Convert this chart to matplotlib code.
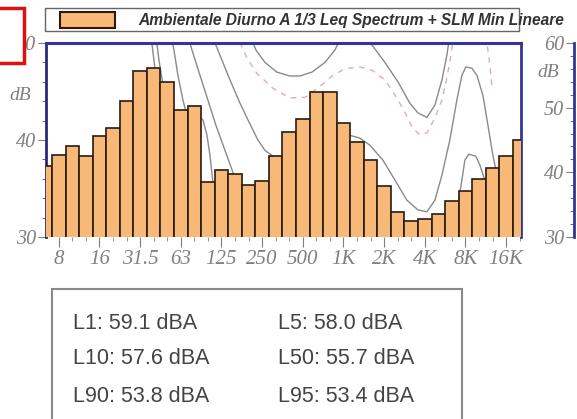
import matplotlib
matplotlib.use("Agg")
import matplotlib.pyplot as plt
import numpy as np
from matplotlib.patches import Rectangle
from matplotlib.ticker import MultipleLocator, FixedLocator

# ── Data ──────────────────────────────────────────────────────────────────────
bands = ["6.3", "8", "10", "12.5", "16", "20", "25", "31.5", "40", "50", "63", "80",
         "100", "125", "160", "200", "250", "315", "400", "500", "630", "800",
         "1K", "1.25K", "1.6K", "2K", "2.5K", "3.15K", "4K", "5K", "6.3K", "8K",
         "10K", "12.5K", "16K", "20K"]
leq_db = [37.3, 38.5, 39.4, 38.3, 40.4, 41.2, 44.0, 47.1, 47.4, 46.0, 43.1, 43.5,
          35.7, 36.9, 36.5, 35.4, 35.8, 38.4, 40.8, 42.2, 44.9, 44.9,
          41.8, 39.8, 37.9, 35.3, 32.6, 31.7, 31.9, 32.4, 33.7, 34.7,
          36.0, 37.1, 38.4, 40.0]
tick_bands = ["8", "16", "31.5", "63", "125", "250", "500", "1K", "2K", "4K", "8K", "16K"]

# reference curves (band position, dB on right scale)
curve_solid = [
    [(7.80, 61.2), (8.02, 57.4), (8.24, 53.5)],
    [(8.17, 61.2), (8.39, 57.4), (8.69, 53.5)],
    [(9.28, 61.2), (9.50, 58.9), (9.79, 55.0), (10.16, 51.2), (10.53, 48.1)],
    [(11.05, 49.3), (11.64, 48.1), (11.93, 45.8), (12.15, 42.7), (12.37, 38.5)],
    [(10.53, 61.2), (10.83, 58.9), (11.42, 55.0), (12.0, 51.2), (12.59, 47.3),
     (13.26, 43.4), (13.85, 40.0), (14.37, 37.3)],
    [(12.30, 61.2), (12.74, 58.9), (13.63, 54.3), (14.37, 50.7), (14.96, 48.1),
     (15.69, 45.0), (16.21, 43.4), (16.80, 42.5), (17.31, 41.9)],
    [(15.10, 61.2), (15.55, 58.9), (16.21, 57.0), (17.09, 55.5), (18.05, 54.9),
     (18.79, 54.9), (19.68, 55.5), (20.64, 57.0), (21.37, 58.9), (21.89, 61.2)],
    [(23.59, 61.2), (24.10, 59.7), (25.06, 57.0), (26.02, 54.0), (26.9, 50.7),
     (27.49, 49.2), (28.16, 48.5), (28.75, 50.4), (29.27, 54.3), (29.63, 58.1),
     (29.85, 61.2)],
    [(22.33, 45.8), (23.21, 45.3), (23.95, 44.2), (24.91, 41.9), (25.80, 38.8),
     (26.68, 35.7), (27.49, 34.2), (28.16, 33.9), (28.75, 35.7), (29.27, 39.6),
     (29.85, 45.0), (30.37, 51.2), (30.74, 55.0), (31.03, 56.3), (31.48, 56.1),
     (31.85, 55.0), (32.29, 51.9), (32.66, 47.3), (33.02, 42.7), (33.25, 40.4)],
    [(30.44, 34.9), (30.74, 38.8), (30.96, 41.9), (31.25, 42.8), (31.77, 42.5),
     (32.07, 41.1), (32.43, 38.8)],
]
curve_dashed = [
    [(14.37, 60.1), (14.88, 57.7), (15.62, 55.3), (16.80, 53.0), (18.05, 51.5),
     (19.16, 51.6), (20.27, 53.3), (21.23, 55.0), (22.11, 56.0), (23.21, 56.3),
     (24.10, 55.8), (25.06, 54.3), (25.94, 51.5), (26.53, 49.3), (27.12, 46.8),
     (27.64, 45.8), (28.16, 46.1), (28.75, 48.4), (29.27, 51.2), (29.63, 54.6),
     (29.93, 58.1), (30.15, 61.2)],
    [(32.51, 61.2), (32.66, 58.9), (32.80, 56.6), (32.95, 53.5)],
]

stats = [["L1: 59.1 dBA", "L5: 58.0 dBA"],
         ["L10: 57.6 dBA", "L50: 55.7 dBA"],
         ["L90: 53.8 dBA", "L95: 53.4 dBA"]]

legend_text = "Ambientale Diurno A 1/3 Leq Spectrum + SLM Min Lineare"

# ── Figure ────────────────────────────────────────────────────────────────────
W, H = 577, 419
fig = plt.figure(figsize=(W / 100, H / 100), dpi=100)
fig.patch.set_facecolor("white")


def fx(px):
    return px / W


def fy(py):
    return 1 - py / H


ax = fig.add_axes([fx(46), fy(237), fx(521) - fx(46), fy(43) - fy(237)])
ax2 = ax.twinx()
ax.set_zorder(ax2.get_zorder() + 1)
ax.patch.set_visible(False)

serif = "Liberation Serif"
gray = "#808080"
navy = "#34349a"

x = np.arange(len(bands))
ax.bar(x, leq_db, width=1.0, bottom=0, color="#f8b878", edgecolor="#2a1a10",
       linewidth=1.2, zorder=3)
ax.set_xlim(0.06, 35.1)
ax.set_ylim(30, 50)

for c in curve_solid:
    cx, cy = zip(*c)
    ax2.plot(cx, cy, color="#8a8a8a", lw=1.0)
for c in curve_dashed:
    cx, cy = zip(*c)
    ax2.plot(cx, cy, color="#e8a8b8", lw=1.0, ls=(0, (4, 4)))
ax2.set_ylim(30, 60)

# x ticks
ax.xaxis.set_major_locator(FixedLocator([bands.index(b) for b in tick_bands]))
ax.set_xticklabels(tick_bands, fontfamily=serif, fontstyle="italic", fontsize=15, color=gray)
ax.xaxis.set_minor_locator(FixedLocator(x))
ax.tick_params(axis="x", which="major", length=7, color=gray, pad=2)
ax.tick_params(axis="x", which="minor", length=3, color=gray)

# left y axis
ax.yaxis.set_major_locator(MultipleLocator(10))
ax.yaxis.set_minor_locator(MultipleLocator(2))
ax.tick_params(axis="y", which="major", length=6, color=gray, labelsize=14.5,
               labelcolor=gray, pad=1)
ax.tick_params(axis="y", which="minor", length=3, color="#555")
for lab in ax.get_yticklabels():
    lab.set_fontfamily(serif)
    lab.set_fontstyle("italic")
ax.text(-0.055, 0.73, "dB", transform=ax.transAxes, ha="center", va="center",
        fontfamily=serif, fontstyle="italic", fontsize=14, color=gray)

ax.spines["bottom"].set_visible(False)
ax.spines["left"].set_color("#2a2a78")
ax.spines["left"].set_linewidth(2)
ax.spines["top"].set_color(navy)
ax.spines["top"].set_linewidth(2.2)
ax.spines["right"].set_color(navy)
ax.spines["right"].set_linewidth(2)

# right y axis, offset out from plot
for s in ["top", "bottom", "right"]:
    ax2.spines[s].set_visible(False)
ax2.yaxis.set_ticks_position("left")
ax2.spines["left"].set_visible(True)
ax2.spines["left"].set_position(("axes", (574 - 46) / 475))
ax2.spines["left"].set_color(navy)
ax2.spines["left"].set_linewidth(2)
ax2.yaxis.set_major_locator(MultipleLocator(10))
ax2.yaxis.set_minor_locator(MultipleLocator(2))
ax2.tick_params(axis="y", which="major", length=6, color=gray, labelsize=14.5,
                labelcolor=gray, pad=1)
ax2.tick_params(axis="y", which="minor", length=3, color="#555")
for lab in ax2.get_yticklabels():
    lab.set_fontfamily(serif)
    lab.set_fontstyle("italic")
ax.text((548 - 46) / 475, 0.85, "dB", transform=ax.transAxes, ha="center", va="center",
        fontfamily=serif, fontstyle="italic", fontsize=14, color=gray)

# legend strip at top
fig.patches.append(Rectangle((fx(45), fy(31)), fx(519) - fx(45), fy(8) - fy(31),
                             transform=fig.transFigure, facecolor="white",
                             edgecolor="#666666", lw=1.0))
fig.patches.append(Rectangle((fx(60), fy(28)), fx(115) - fx(60), fy(12) - fy(28),
                             transform=fig.transFigure, facecolor="#f8b878",
                             edgecolor="#2a1a10", lw=1.5))
fig.text(fx(138), fy(20), legend_text, ha="left", va="center", fontsize=11.2,
         fontweight="bold", fontstyle="italic", color="#333333",
         fontfamily="Liberation Sans")

# statistics box
fig.patches.append(Rectangle((fx(52), -0.02), fx(462) - fx(52), fy(289) + 0.02,
                             transform=fig.transFigure, facecolor="none",
                             edgecolor="#8a8a8a", lw=1.5))
row_y = [323, 358, 396]
col_x = [73, 278]
for r, row in enumerate(stats):
    for c, txt in enumerate(row):
        fig.text(fx(col_x[c]), fy(row_y[r]), txt, ha="left", va="center",
                 fontsize=15.5, color="#444444", fontfamily="Liberation Sans")

# red marker box top-left
fig.patches.append(Rectangle((-0.01, fy(63)), fx(24) + 0.01, fy(8) - fy(63),
                             transform=fig.transFigure, facecolor="white",
                             edgecolor="#e01010", lw=2.5, zorder=10))

fig.savefig("out.png", dpi=100)
